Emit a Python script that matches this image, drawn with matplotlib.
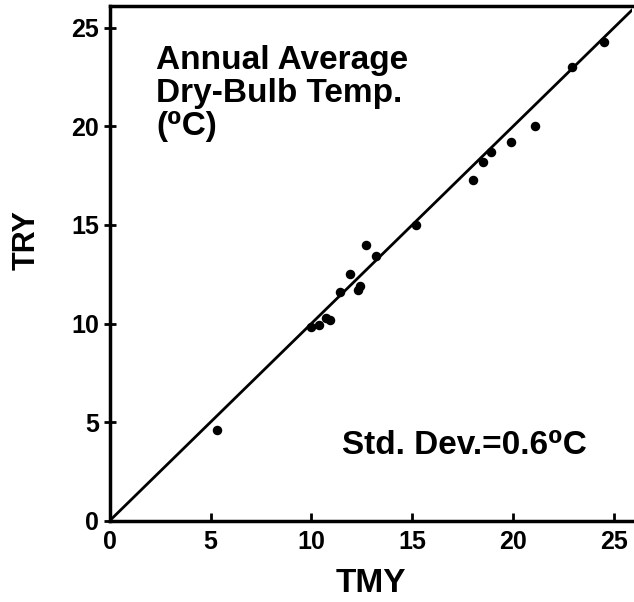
import matplotlib
matplotlib.use("Agg")
import matplotlib.pyplot as plt

# Annual average dry-bulb temperature, TMY vs TRY (deg C)
tmy = [5.3, 10.0, 10.4, 10.7, 10.9, 11.4, 11.9, 12.3, 12.4, 12.7, 13.2,
       15.2, 18.0, 18.5, 18.9, 19.9, 21.1, 22.9, 24.5]
try_ = [4.6, 9.8, 9.9, 10.3, 10.2, 11.6, 12.5, 11.7, 11.9, 14.0, 13.4,
        15.0, 17.3, 18.2, 18.7, 19.2, 20.0, 23.0, 24.3]
ticks = [0, 5, 10, 15, 20, 25]
diag = [0, 27]

FONT = ["Liberation Sans", "DejaVu Sans"]
plt.rcParams["font.family"] = FONT
plt.rcParams["font.weight"] = "bold"

fig = plt.figure(figsize=(6.34, 6.02), dpi=100)
ax = fig.add_axes([0.173, 0.135, 0.824, 0.855])

ax.plot(diag, diag, color="black", linewidth=2.0)
ax.scatter(tmy, try_, s=34, color="black", zorder=3)

ax.set_xlim(0, 25.9)
ax.set_ylim(0, 26.1)
ax.set_xticks(ticks)
ax.set_yticks(ticks)
ax.tick_params(axis="x", direction="in", length=6, width=2, labelsize=18, pad=7)
ax.tick_params(axis="y", direction="inout", length=9, width=2, labelsize=18, pad=3)
for lab in ax.get_xticklabels() + ax.get_yticklabels():
    lab.set_fontweight("bold")

for side in ("left", "bottom", "top"):
    ax.spines[side].set_linewidth(2.5)
ax.spines["right"].set_visible(False)

ax.set_xlabel("TMY", fontsize=24, fontweight="bold", labelpad=10)
ax.set_ylabel("TRY", fontsize=22, fontweight="bold")
ax.yaxis.set_label_coords(-0.13, 0.545)

ax.text(2.3, 24.1, "Annual Average\nDry-Bulb Temp.\n(\u2070C)", fontsize=24,
        fontweight="bold", va="top", ha="left", linespacing=1.08)
ax.text(17.6, 3.8, "Std. Dev.=0.6\u2070C", fontsize=24, fontweight="bold",
        va="center", ha="center")

fig.savefig("out.png", dpi=100, facecolor="white")
